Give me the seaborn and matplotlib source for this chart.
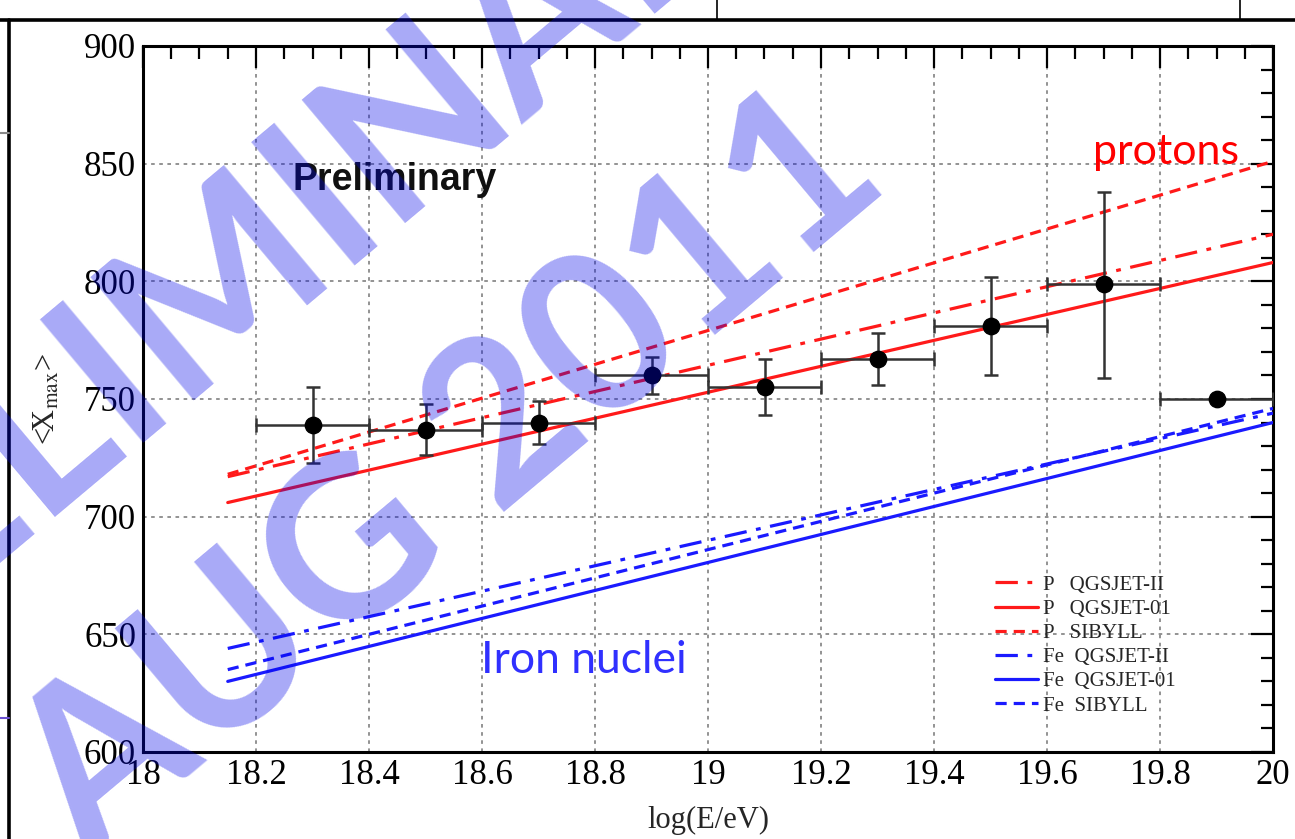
import numpy as np
import pandas as pd
import matplotlib
matplotlib.use("Agg")
import matplotlib.pyplot as plt
import seaborn as sns
from matplotlib.lines import Line2D
from matplotlib.ticker import MultipleLocator

# Measured <Xmax> per energy bin
log_e = [18.3, 18.5, 18.7, 18.9, 19.1, 19.3, 19.5, 19.7, 19.9]
xmax_mean = [739, 737, 740, 760, 755, 767, 781, 799, 750]
xmax_err_up = [16, 11, 9, 8, 12, 11, 21, 39, 0]
xmax_err_lo = [16, 11, 9, 8, 12, 11, 21, 40, 0]
bin_half_width = [0.1, 0.1, 0.1, 0.1, 0.1, 0.1, 0.1, 0.1, 0.1]

# Model predictions (straight lines between the two energies)
model_energy = [18.15, 20.0]
p_qgsjet2 = [717, 820]
p_qgsjet01 = [706, 808]
p_sibyll = [718, 851]
fe_qgsjet2 = [644, 744]
fe_qgsjet01 = [630, 740]
fe_sibyll = [635, 746]

model_labels = ["P   QGSJET-II", "P   QGSJET-01", "P   SIBYLL",
                "Fe  QGSJET-II", "Fe  QGSJET-01", "Fe  SIBYLL"]

x_ticks = [18, 18.2, 18.4, 18.6, 18.8, 19, 19.2, 19.4, 19.6, 19.8, 20]
x_tick_labels = ["18", "18.2", "18.4", "18.6", "18.8", "19", "19.2", "19.4",
                 "19.6", "19.8", "20"]
y_ticks = [600, 650, 700, 750, 800, 850, 900]

sns.set_theme(style="white")
plt.rcParams["font.family"] = ["Liberation Serif", "DejaVu Serif"]
plt.rcParams["mathtext.fontset"] = "stix"

W, H = 1295, 839
fig = plt.figure(figsize=(W / 100, H / 100), dpi=100)
fig.patch.set_facecolor("white")


def fx(px):
    return px / W


def fy(py):
    return 1 - py / H


ax = fig.add_axes([fx(143), fy(752), fx(1273) - fx(143), fy(46) - fy(752)])
ax.set_facecolor("white")

RED = "#ff1a1a"
BLUE = "#1a1aff"
dashdot = (0, (7, 3, 1.5, 3))
dashed = (0, (3.5, 2.2))

models = pd.DataFrame({
    "energy": model_energy * 6,
    "xmax": p_qgsjet2 + p_qgsjet01 + p_sibyll + fe_qgsjet2 + fe_qgsjet01 + fe_sibyll,
    "model": np.repeat(model_labels, 2),
})
styles = {
    model_labels[0]: (RED, dashdot),
    model_labels[1]: (RED, "-"),
    model_labels[2]: (RED, dashed),
    model_labels[3]: (BLUE, dashdot),
    model_labels[4]: (BLUE, "-"),
    model_labels[5]: (BLUE, dashed),
}
handles = []
for name in model_labels:
    col, ls = styles[name]
    sub = models[models["model"] == name]
    sns.lineplot(data=sub, x="energy", y="xmax", ax=ax, color=col,
                 linestyle=ls, linewidth=2.3, zorder=3, legend=False)
    handles.append(Line2D([0], [0], color=col, linestyle=ls, linewidth=2.3))

# Data points with energy-bin and statistical error bars
ax.errorbar(log_e, xmax_mean, yerr=[xmax_err_lo, xmax_err_up],
            xerr=bin_half_width, fmt="none", ecolor="#333333",
            elinewidth=1.8, capsize=5, capthick=1.8, zorder=4)
sns.scatterplot(x=log_e, y=xmax_mean, ax=ax, color="black", s=140,
                edgecolor="black", zorder=5, legend=False)

ax.set_xlim(18, 20)
ax.set_ylim(600, 900)
ax.set_xticks(x_ticks)
ax.set_xticklabels(x_tick_labels)
ax.set_yticks(y_ticks)
ax.xaxis.set_minor_locator(MultipleLocator(0.05))
ax.yaxis.set_minor_locator(MultipleLocator(10))
ax.tick_params(which="both", direction="in", top=True, right=True,
               colors="black", labelsize=25, width=1.6)
ax.tick_params(which="major", length=16, pad=5)
ax.tick_params(which="minor", length=9)
for s in ax.spines.values():
    s.set_color("black")
    s.set_linewidth(2.2)
ax.grid(True, which="major", color="#8a8a8a", linestyle=(0, (2, 2.5)),
        linewidth=1.3, zorder=0)
ax.set_axisbelow(True)

ax.set_xlabel("log(E/eV)", fontsize=22, labelpad=10)
ax.set_ylabel(r"<X$_{\rm max}$>", fontsize=22, labelpad=16)

leg = ax.legend(handles, model_labels, loc="lower right",
                bbox_to_anchor=(0.93, 0.025), frameon=False, fontsize=15,
                handlelength=2.1, handletextpad=0.2, labelspacing=0.22)

ax.text(18.265, 843, "Preliminary", fontsize=27, fontweight="bold",
        family=["Liberation Sans"], color="#101010", ha="left", va="center")
ax.text(19.81, 855, "protons", fontsize=31, family=["Lato"], color="#ff0000",
        ha="center", va="center")
ax.text(18.78, 639, "Iron nuclei", fontsize=32, family=["Lato"],
        color="#3030ff", ha="center", va="center")

# Page frame and window edges around the plot
frame_kw = dict(transform=fig.transFigure, color="black", linewidth=2.6)
fig.add_artist(Line2D([0, 1], [fy(20), fy(20)], **frame_kw))
fig.add_artist(Line2D([fx(9), fx(9)], [fy(20), 0], **frame_kw))
fig.add_artist(Line2D([fx(717), fx(717)], [1, fy(20)], transform=fig.transFigure,
                      color="black", linewidth=1.2))
fig.add_artist(Line2D([fx(1240), fx(1240)], [1, fy(20)], transform=fig.transFigure,
                      color="black", linewidth=1.2))
fig.add_artist(Line2D([0, fx(9)], [fy(133), fy(133)], transform=fig.transFigure,
                      color="#888888", linewidth=1.5))
fig.add_artist(Line2D([0, fx(9)], [fy(718), fy(718)], transform=fig.transFigure,
                      color="#6a4fd0", linewidth=1.5))

# Watermark
wm = dict(transform=fig.transFigure, fontsize=160, fontweight="bold",
          family=["Lato"], color="#0005e8", alpha=0.34, rotation=40,
          ha="center", va="center", rotation_mode="anchor", zorder=10)
fig.text(fx(450), fy(475), "AUG 2011", **wm)
fig.text(fx(250), fy(255), "PRELIMINARY", **wm)

fig.savefig("out.png", dpi=100, facecolor="white")
